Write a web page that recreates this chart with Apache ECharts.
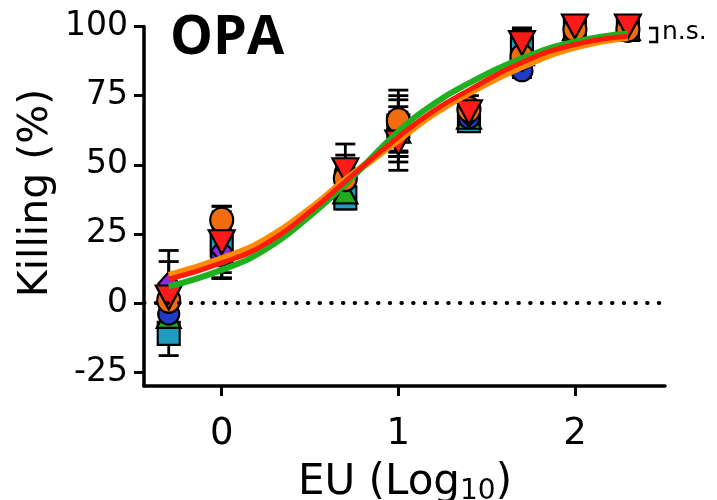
<!DOCTYPE html>
<html>
<head>
<meta charset="utf-8">
<script src="https://cdn.jsdelivr.net/npm/echarts@6/dist/echarts.min.js"></script>
<style>
  html, body { margin: 0; padding: 0; background: #fff; }
  #chart { width: 717px; height: 500px; }
</style>
</head>
<body>
<div id="chart"></div>
<script>
// dose points (log10 EU)
const xVals = [-0.3, 0, 0.7, 1, 1.4, 1.7, 2, 2.3]

// killing (%) per group, mean and SD
const tealMean = [-11, 21, 38, 64, 66, 92, 99, 99]
const tealSd = [8, 12, 4, 9.5, 3, 7.5, 1, 1]
const greenMean = [-5, 18, 40, 62, 67, 90, 99, 99]
const greenSd = [6, 9, 5, 9, 3, 5, 1, 1]
const blueMean = [-4, 17, 47, 63, 67, 84, 99, 99]
const blueSd = [5, 8, 5, 12, 3, 2.5, 1, 1]
const purpleMean = [7, 19, 46, 61, 68, 88, 99, 99]
const purpleSd = [8, 8, 4, 8, 3, 4, 1, 1]
const orangeMean = [1, 30, 45, 66, 70, 89, 99, 99]
const orangeSd = [6, 5, 8.5, 11, 5, 4, 1, 1]
const redMean = [2, 22, 48, 58, 69, 94, 100, 100]
const redSd = [17, 13, 9.5, 10, 4, 5, 1, 1]

// fitted curves
const curveX = [-0.3, 0, 0.25, 0.5, 0.7, 1, 1.2, 1.4, 1.7, 2, 2.3]
const orangeCurve = [10, 16, 23, 34, 44.5, 59, 68.5, 76, 85.5, 92.5, 96]
const redCurve = [8.6, 14.5, 21.5, 33, 44, 60, 69.5, 77, 87, 93.5, 96.5]
const greenCurve = [6, 12, 19.5, 31.5, 43, 62, 72, 79.5, 88.5, 94.5, 97.5]

const yTicks = [-25, 0, 25, 50, 75, 100]
const xTicks = [0, 1, 2]

const chart = echarts.init(document.getElementById('chart'))

const pts = (ys) => xVals.map((x, i) => [x, ys[i]])
const bars = (m, s) => xVals.map((x, i) => [x, m[i] - s[i], m[i] + s[i]])
const line = (ys) => curveX.map((x, i) => [x, ys[i]])

const errorSeries = (m, s) => ({
  type: 'custom',
  z: 2,
  silent: true,
  data: bars(m, s),
  renderItem: (params, api) => {
    const lo = api.coord([api.value(0), api.value(1)])
    const hi = api.coord([api.value(0), api.value(2)])
    const w = 10
    const st = { stroke: '#000', lineWidth: 2.8 }
    return {
      type: 'group',
      children: [
        { type: 'line', shape: { x1: lo[0], y1: lo[1], x2: hi[0], y2: hi[1] }, style: st },
        { type: 'line', shape: { x1: lo[0] - w, y1: lo[1], x2: lo[0] + w, y2: lo[1] }, style: st },
        { type: 'line', shape: { x1: hi[0] - w, y1: hi[1], x2: hi[0] + w, y2: hi[1] }, style: st }
      ]
    }
  }
})

const markerSeries = (data, symbol, size, color, rotate) => ({
  type: 'scatter',
  z: 3,
  data,
  symbol,
  symbolSize: size,
  symbolRotate: rotate || 0,
  itemStyle: { color, borderColor: '#000', borderWidth: 2.2, opacity: 1 }
})

const curveSeries = (data, color, width, z) => ({
  type: 'line',
  z,
  data,
  smooth: 0.5,
  showSymbol: false,
  silent: true,
  lineStyle: { color, width }
})

const option = {
  animation: false,
  grid: { left: 144, right: 52, top: 26.5, bottom: 114 },
  xAxis: {
    type: 'value',
    min: -0.44,
    max: 2.51,
    splitLine: { show: false },
    axisLine: { onZero: false, lineStyle: { color: '#000', width: 3.5 } },
    axisTick: { customValues: xTicks, length: 10, lineStyle: { color: '#000', width: 3 } },
    axisLabel: {
      customValues: xTicks,
      margin: 30,
      fontFamily: 'DejaVu Sans',
      fontSize: 37,
      color: '#000'
    }
  },
  yAxis: {
    type: 'value',
    min: -30,
    max: 100,
    splitLine: { show: false },
    axisLine: { show: true, onZero: false, lineStyle: { color: '#000', width: 3.5 } },
    axisTick: { show: true, customValues: yTicks, length: 10, lineStyle: { color: '#000', width: 3 } },
    axisLabel: {
      customValues: yTicks,
      margin: 16,
      fontFamily: 'DejaVu Sans',
      fontSize: 33,
      color: '#000'
    }
  },
  graphic: [
    {
      type: 'text',
      left: 170,
      top: 12,
      style: { text: 'OPA', font: 'bold 54px "Open Sans"', fill: '#000' }
    },
    {
      type: 'text',
      x: 36,
      y: 193,
      rotation: Math.PI / 2,
      style: {
        text: 'Killing (%)',
        font: '41px "DejaVu Sans"',
        fill: '#000',
        align: 'center',
        verticalAlign: 'middle'
      }
    },
    {
      type: 'text',
      x: 405,
      y: 462,
      style: {
        text: '{a|EU (Log}{s|10}{a|)}',
        align: 'center',
        verticalAlign: 'top',
        fill: '#000',
        rich: {
          a: { fontFamily: 'DejaVu Sans', fontSize: 42, lineHeight: 44, verticalAlign: 'top' },
          s: { fontFamily: 'DejaVu Sans', fontSize: 28, lineHeight: 20, verticalAlign: 'bottom' }
        }
      }
    },
    {
      type: 'polyline',
      shape: { points: [[649, 28], [657, 28], [657, 42], [649, 42]] },
      style: { stroke: '#000', lineWidth: 2.5, fill: null }
    },
    {
      type: 'text',
      x: 662,
      y: 45,
      style: { text: 'n.s.', font: '25px "DejaVu Sans"', fill: '#000', verticalAlign: 'bottom' }
    }
  ],
  series: [
    {
      type: 'line',
      data: [],
      silent: true,
      markLine: {
        symbol: 'none',
        silent: true,
        label: { show: false },
        lineStyle: { color: '#000', width: 4, type: [0.5, 11.2], cap: 'round' },
        data: [{ yAxis: 0 }]
      }
    },
    errorSeries(tealMean, tealSd),
    errorSeries(greenMean, greenSd),
    errorSeries(blueMean, blueSd),
    errorSeries(purpleMean, purpleSd),
    errorSeries(orangeMean, orangeSd),
    errorSeries(redMean, redSd),
    markerSeries(pts(tealMean), 'rect', [22, 23], '#1f9cc0'),
    markerSeries(pts(greenMean), 'triangle', [24, 22], '#1faa1f'),
    markerSeries(pts(blueMean), 'circle', [21, 21], '#1e3cc8'),
    markerSeries(pts(purpleMean), 'diamond', [21, 23], '#8a2be2'),
    markerSeries(pts(orangeMean), 'circle', [23, 25], '#f26b0f'),
    markerSeries(pts(redMean), 'triangle', [26, 24], '#ff1a1a', 180),
    curveSeries(line(orangeCurve), '#ff8c00', 7, 4),
    curveSeries(line(greenCurve), '#1fb01f', 6, 5),
    curveSeries(line(redCurve), '#ff1a0a', 5, 6)
  ]
}

chart.setOption(option)
window.addEventListener('resize', () => chart.resize())
</script>
</body>
</html>
